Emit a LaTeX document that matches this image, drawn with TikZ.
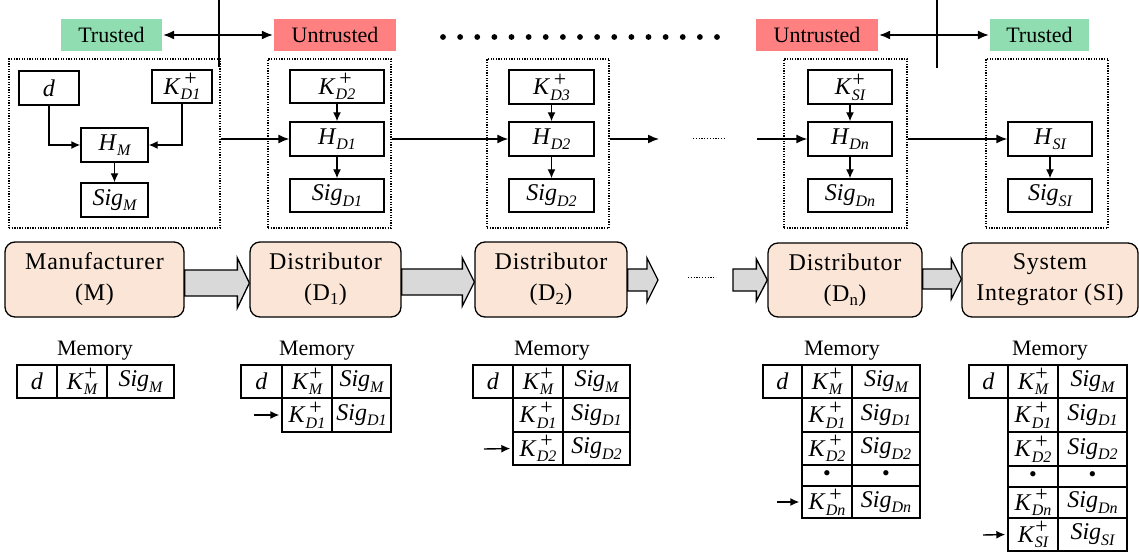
\documentclass[tikz,border=0pt]{standalone}
\usepackage{fontspec}
\setmainfont{Liberation Serif}
\usetikzlibrary{arrows.meta,calc}

\definecolor{peach}{HTML}{FBE5D6}
\definecolor{flowgray}{HTML}{D9D9D9}
\definecolor{trustgreen}{HTML}{8FDDB1}
\definecolor{untrustred}{HTML}{FF8080}

% sub- and superscript helpers for the key/signature labels
\newcommand\subf{\fontsize{16}{16}\selectfont\itshape}
\newcommand\supf{\fontsize{22}{22}\selectfont\upshape}
\newcommand\Sb[2]{\textit{#1}\raisebox{-0.22em}{\subf #2}}
\newcommand\Kp[1]{\textit{K}\setbox0=\hbox{\subf #1}\rlap{\hbox to \wd0{\hss\raisebox{0.36em}{\supf +}\hss}}\raisebox{-0.22em}{\box0}}

% node placed by its corner coordinates
\newcommand\place[7]{\node[#1, minimum width={(#5-#3)*1pt}, minimum height={(#6-#4)*1pt}] (#2) at ({(#3+#5)/2},{(#4+#6)/2}) {#7};}

% grey block arrow between two points at height #3
\newcommand\blockarrow[6]{%
  \path[blk] let \p1=(#1), \p2=(#2) in
    (\x1,#3-#4) -- ({\x2-#6pt},#3-#4) -- ({\x2-#6pt},#3-#5) -- (\x2,#3)
    -- ({\x2-#6pt},#3+#5) -- ({\x2-#6pt},#3+#4) -- (\x1,#3+#4) -- cycle;}

\tikzset{
  lab/.style={draw, line width=1.4pt, inner sep=0pt, fill=white, font=\fontsize{24}{24}\selectfont},
  dotbox/.style={draw, line width=1.1pt, dash pattern=on 1.3pt off 1.3pt, inner sep=0pt},
  arr/.style={line width=1.4pt, -{Latex[length=11pt,width=9pt]}},
  arrs/.style={line width=1.4pt, -{Latex[length=9pt,width=8pt]}},
  darr/.style={line width=1.4pt, {Latex[length=11pt,width=9pt]}-{Latex[length=11pt,width=9pt]}},
  tag/.style={inner sep=0pt, font=\fontsize{22}{22}\selectfont},
  ent/.style={draw, line width=1.3pt, rounded corners=10pt, fill=peach, align=center, inner sep=0pt,
    font=\fontsize{24}{31}\selectfont\addfontfeatures{LetterSpace=3}},
  blk/.style={draw, line width=1.3pt, fill=flowgray},
  cell/.style={draw, line width=1.4pt, inner sep=0pt, font=\fontsize{24}{24}\selectfont},
  dotcell/.style={cell, font=\fontsize{22}{22}\selectfont},
}

\begin{document}
\begin{tikzpicture}[x=1pt,y=-1pt]
\useasboundingbox (0,0) rectangle (1139,553);

% ---------- trust boundaries ----------
\place{tag, fill=trustgreen}{tr1}{61}{19}{162}{51}{Trusted}
\place{tag, fill=untrustred}{un1}{274}{19}{396}{51}{Untrusted}
\place{tag, fill=untrustred}{un2}{756}{19}{878}{51}{Untrusted}
\place{tag, fill=trustgreen}{tr2}{990}{19}{1089}{51}{Trusted}
\draw[darr, shorten <=1pt, shorten >=1pt] (tr1.east) -- (un1.west);
\draw[darr, shorten <=1pt, shorten >=1pt] (un2.east) -- (tr2.west);
\coordinate (v1a) at (219,0);  \coordinate (v1b) at (219,67);
\coordinate (v2a) at (937,0);  \coordinate (v2b) at (937,68);
\draw[line width=1.4pt] (v1a) -- (v1b);
\draw[line width=1.4pt] (v2a) -- (v2b);
\foreach \i in {0,...,16} \fill (443+\i*17.125,37) circle (2.9);

% ---------- signing containers ----------
\place{dotbox}{c1}{9}{59}{220}{228}{}
\place{dotbox}{c2}{268}{59}{391}{228}{}
\place{dotbox}{c3}{487}{59}{609}{228}{}
\place{dotbox}{c4}{784}{59}{907}{228}{}
\place{dotbox}{c5}{986}{59}{1108}{228}{}

% manufacturer
\place{lab}{dd}{19}{71}{79}{105}{\textit{d}}
\place{lab}{Kd1}{152}{70}{212}{103}{\Kp{D1}}
\place{lab}{HM}{81}{128}{148}{162}{\Sb{H}{M}}
\place{lab}{SigM}{81}{183}{148}{217}{\Sb{Sig}{M}}
\draw[arrs] (dd.south) |- (HM.west);
\draw[arrs] (Kd1.south) |- (HM.east);
\draw[arrs] (HM.south) -- (SigM.north);

% distributor 1
\place{lab}{Kd2}{290}{70}{384}{103}{\Kp{D2}}
\place{lab}{Hd1}{290}{122}{384}{156}{\Sb{H}{D1}}
\place{lab}{Sigd1}{290}{179}{384}{212}{\Sb{Sig}{D1}}
\draw[arrs] (Kd2.south) -- (Hd1.north);
\draw[arrs] (Hd1.south) -- (Sigd1.north);

% distributor 2
\place{lab}{Kd3}{509}{70}{594}{104}{\Kp{D3}}
\place{lab}{Hd2}{509}{122}{594}{156}{\Sb{H}{D2}}
\place{lab}{Sigd2}{509}{179}{594}{212}{\Sb{Sig}{D2}}
\draw[arrs] (Kd3.south) -- (Hd2.north);
\draw[arrs] (Hd2.south) -- (Sigd2.north);

% distributor n
\place{lab}{Ksi}{808}{70}{892}{104}{\Kp{SI}}
\place{lab}{Hdn}{808}{122}{892}{156}{\Sb{H}{Dn}}
\place{lab}{Sigdn}{808}{179}{892}{212}{\Sb{Sig}{Dn}}
\draw[arrs] (Ksi.south) -- (Hdn.north);
\draw[arrs] (Hdn.south) -- (Sigdn.north);

% system integrator
\place{lab}{Hsi}{1008}{122}{1092}{156}{\Sb{H}{SI}}
\place{lab}{Sigsi}{1008}{179}{1092}{212}{\Sb{Sig}{SI}}
\draw[arrs] (Hsi.south) -- (Sigsi.north);

% hand-over between containers
\coordinate (g1) at (659,139);
\coordinate (g2) at (693,139);
\coordinate (g3) at (725,139);
\coordinate (g4) at (757,139);
\draw[arr] (c1.east |- Hd1.west) -- (Hd1.west);
\draw[arr] (c2.east |- Hd2.west) -- (Hd2.west);
\draw[arr] (c3.east |- Hd2.east) -- (g1);
\draw[line width=1pt, dash pattern=on 1.2pt off 1.6pt] (g2) -- (g3);
\draw[arr] (g4) -- (Hdn.west);
\draw[arr] (c4.east |- Hdn.east) -- (Hsi.west);

% ---------- supply chain ----------
\place{ent}{M}{5}{242}{184}{317}{Manufacturer\\(M)}
\place{ent}{D1}{250}{242}{401}{317}{Distributor\\(D\textsubscript{1})}
\place{ent}{D2}{475}{242}{627}{317}{Distributor\\(D\textsubscript{2})}
\place{ent}{Dn}{768}{243}{922}{317}{Distributor\\(D\textsubscript{n})}
\place{ent}{SI}{962}{243}{1138}{317}{System\\Integrator (SI)}
\coordinate (f1) at (658,282);
\coordinate (f2) at (733,282);
\coordinate (f3) at (688,277);
\coordinate (f4) at (716,277);
\blockarrow{M.east}{D1.west}{283}{13}{25}{12}
\blockarrow{D1.east}{D2.west}{282}{13}{24}{12}
\blockarrow{D2.east}{f1}{280}{11}{22}{11}
\blockarrow{f2}{Dn.west}{280}{11}{21}{11}
\blockarrow{Dn.east}{SI.west}{279}{10}{20}{10}
\draw[line width=1pt, dash pattern=on 1.2pt off 1.6pt] (f3) -- (f4);

% ---------- memory contents ----------
\node[tag, anchor=base] (m1) at (95,355) {Memory};
\place{cell}{t1a}{17}{365}{57}{398}{\textit{d}}
\place{cell}{t1b}{57}{365}{107}{398}{\Kp{M}}
\place{cell}{t1c}{107}{365}{174}{398}{\Sb{Sig}{M}}

\node[tag, anchor=base] (m2) at (317,355) {Memory};
\place{cell}{t2a}{241}{365}{282}{398}{\textit{d}}
\place{cell}{t2b}{282}{365}{332}{398}{\Kp{M}}
\place{cell}{t2c}{332}{365}{391}{398}{\Sb{Sig}{M}}
\place{cell}{t2d}{282}{398}{332}{432}{\Kp{D1}}
\place{cell}{t2e}{332}{398}{391}{432}{\Sb{Sig}{D1}}
\coordinate (p2) at (254,415);
\draw[arrs, shorten >=2pt] (p2) -- (t2d.west);

\node[tag, anchor=base] (m3) at (552,355) {Memory};
\place{cell}{t3a}{473}{365}{513}{398}{\textit{d}}
\place{cell}{t3b}{513}{365}{563}{398}{\Kp{M}}
\place{cell}{t3c}{563}{365}{630}{398}{\Sb{Sig}{M}}
\place{cell}{t3d}{513}{398}{563}{432}{\Kp{D1}}
\place{cell}{t3e}{563}{398}{630}{432}{\Sb{Sig}{D1}}
\place{cell}{t3f}{513}{432}{563}{465}{\Kp{D2}}
\place{cell}{t3g}{563}{432}{630}{465}{\Sb{Sig}{D2}}
\coordinate (p3) at (484,449);
\draw[arrs, shorten >=2pt] (p3) -- (t3f.west);

\node[tag, anchor=base] (m4) at (842,355) {Memory};
\place{cell}{t4a}{763}{365}{802}{398}{\textit{d}}
\place{cell}{t4b}{802}{365}{852}{398}{\Kp{M}}
\place{cell}{t4c}{852}{365}{920}{398}{\Sb{Sig}{M}}
\place{cell}{t4d}{802}{398}{852}{432}{\Kp{D1}}
\place{cell}{t4e}{852}{398}{920}{432}{\Sb{Sig}{D1}}
\place{cell}{t4f}{802}{432}{852}{465}{\Kp{D2}}
\place{cell}{t4g}{852}{432}{920}{465}{\Sb{Sig}{D2}}
\place{dotcell}{t4h}{802}{465}{852}{486}{\textbullet}
\place{dotcell}{t4i}{852}{465}{920}{486}{\textbullet}
\place{cell}{t4j}{802}{486}{852}{518}{\Kp{Dn}}
\place{cell}{t4k}{852}{486}{920}{518}{\Sb{Sig}{Dn}}
\coordinate (p4) at (777,502);
\draw[arrs, shorten >=2pt] (p4) -- (t4j.west);

\node[tag, anchor=base] (m5) at (1050,355) {Memory};
\place{cell}{t5a}{969}{365}{1008}{398}{\textit{d}}
\place{cell}{t5b}{1008}{365}{1058}{398}{\Kp{M}}
\place{cell}{t5c}{1058}{365}{1127}{398}{\Sb{Sig}{M}}
\place{cell}{t5d}{1008}{398}{1058}{432}{\Kp{D1}}
\place{cell}{t5e}{1058}{398}{1127}{432}{\Sb{Sig}{D1}}
\place{cell}{t5f}{1008}{432}{1058}{466}{\Kp{D2}}
\place{cell}{t5g}{1058}{432}{1127}{466}{\Sb{Sig}{D2}}
\place{dotcell}{t5h}{1008}{466}{1058}{487}{\textbullet}
\place{dotcell}{t5i}{1058}{466}{1127}{487}{\textbullet}
\place{cell}{t5j}{1008}{487}{1058}{518}{\Kp{Dn}}
\place{cell}{t5k}{1058}{487}{1127}{518}{\Sb{Sig}{Dn}}
\place{cell}{t5l}{1008}{518}{1058}{551}{\Kp{SI}}
\place{cell}{t5m}{1058}{518}{1127}{551}{\Sb{Sig}{SI}}
\coordinate (p5) at (983,535);
\draw[arrs, shorten >=2pt] (p5) -- (t5l.west);
\end{tikzpicture}
\end{document}
